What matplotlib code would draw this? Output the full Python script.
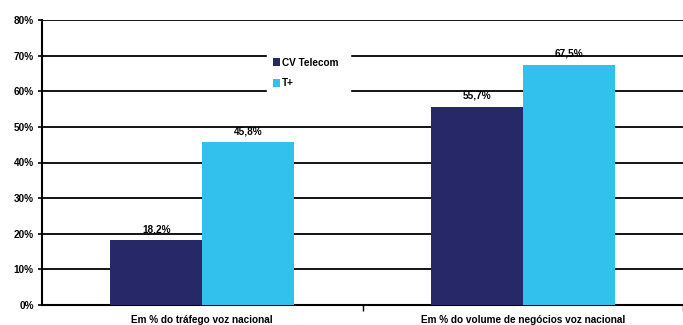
import numpy as np
import matplotlib
matplotlib.use("Agg")
import matplotlib.pyplot as plt

plt.rcParams['font.family'] = ['Liberation Sans', 'DejaVu Sans']

categories = ["Em % do tráfego voz nacional", "Em % do volume de negócios voz nacional"]
series_names = ["CV Telecom", "T+"]
cv_telecom = [18.2, 55.7]
t_plus = [45.8, 67.5]
labels_cv = ["18,2%", "55,7%"]
labels_tp = ["45,8%", "67,5%"]
colors = ["#272868", "#32C0EC"]

fs = 7.2

fig = plt.figure(figsize=(6.83, 3.25), dpi=100)
ax = fig.add_axes([42/683, 1 - 305/325, 641/683, 285/325])

x = np.arange(len(categories))
w = 0.2875
b1 = ax.bar(x - w/2, cv_telecom, w, color=colors[0], label=series_names[0], zorder=3)
b2 = ax.bar(x + w/2, t_plus, w, color=colors[1], label=series_names[1], zorder=3)

# value labels above the bars
for bars, labs in [(b1, labels_cv), (b2, labels_tp)]:
    for rect, lab in zip(bars, labs):
        ax.text(rect.get_x() + rect.get_width()/2, rect.get_height() + 1.6, lab,
                ha='center', va='bottom', fontsize=fs, fontweight='bold')

ax.set_xlim(-0.5, 1.5)
ax.set_ylim(0, 80)
ax.set_yticks(np.arange(0, 81, 10))
ax.set_yticklabels([f"{v}%" for v in range(0, 81, 10)], fontsize=fs, fontweight='bold')
ax.yaxis.grid(True, color='black', linewidth=1.3, zorder=0)
ax.set_axisbelow(True)

ax.set_xticks(x)
ax.set_xticklabels(categories, fontsize=fs, fontweight='bold')
ax.tick_params(axis='x', length=0, pad=7.5)
ax.set_xticks([0.5, 1.5], minor=True)
ax.tick_params(axis='x', which='minor', length=4, width=1, direction='out')
ax.tick_params(axis='y', length=3, width=1.2, pad=3)

for s in ['top', 'right']:
    ax.spines[s].set_visible(False)
ax.spines['left'].set_linewidth(1.5)
ax.spines['bottom'].set_linewidth(1.5)

leg = ax.legend(loc='upper left', bbox_to_anchor=((267 - 42)/641, (305 - 52)/285, 83/641, 0),
                mode='expand', frameon=True,
                fontsize=fs, handlelength=0.75, handleheight=0.75, handletextpad=0.15,
                borderpad=0.55, labelspacing=1.1, borderaxespad=0)
leg.get_frame().set_edgecolor('white')
leg.get_frame().set_facecolor('white')
leg.get_frame().set_alpha(1)
leg.get_frame().set_boxstyle('square', pad=0)
for t in leg.get_texts():
    t.set_fontweight('bold')

fig.savefig("out.png", dpi=100)
